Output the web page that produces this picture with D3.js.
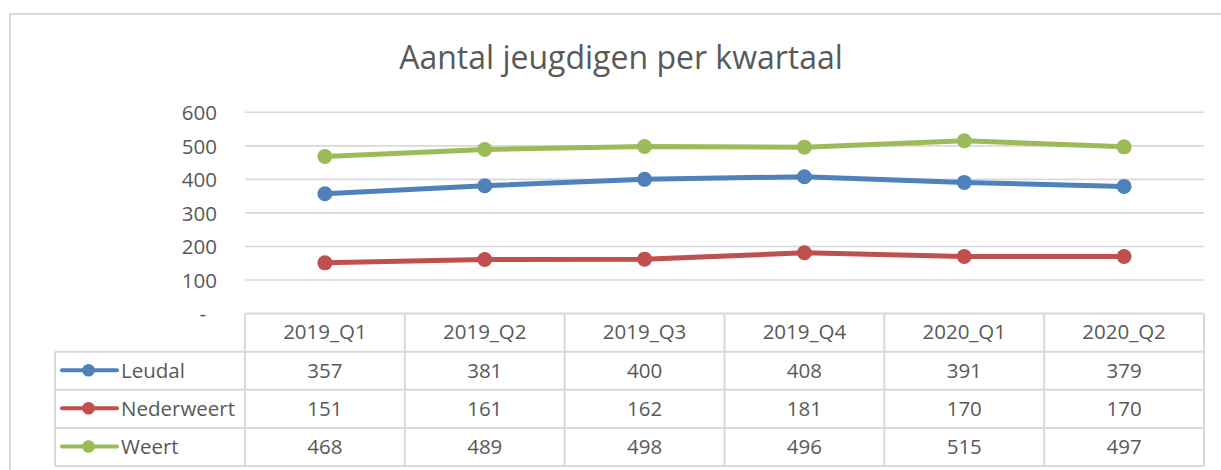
<!DOCTYPE html>
<html>
<head>
<meta charset="utf-8">
<script src="https://cdn.jsdelivr.net/npm/d3@7"></script>
<style>
  html, body { margin: 0; padding: 0; background: #fff; }
  svg { display: block; }
  text { font-family: "Open Sans", sans-serif; fill: #595959; }
</style>
</head>
<body>
<svg id="chart" width="1221" height="470"></svg>
<script>
const title = "Aantal jeugdigen per kwartaal";
const quarters = ["2019_Q1", "2019_Q2", "2019_Q3", "2019_Q4", "2020_Q1", "2020_Q2"];
const seriesNames = ["Leudal", "Nederweert", "Weert"];
const leudal = [357, 381, 400, 408, 391, 379];
const nederweert = [151, 161, 162, 181, 170, 170];
const weert = [468, 489, 498, 496, 515, 497];
const yTicks = [0, 100, 200, 300, 400, 500, 600];
const colors = ["#4F81BD", "#C0504D", "#9BBB59"];

const series = [
  { name: seriesNames[0], values: leudal, color: colors[0] },
  { name: seriesNames[1], values: nederweert, color: colors[1] },
  { name: seriesNames[2], values: weert, color: colors[2] }
];

const svg = d3.select("#chart");
const grid = "#d9d9d9";
const fs = "20.5px";

// outer chart border
svg.append("rect")
  .attr("x", 10).attr("y", 14)
  .attr("width", 1240).attr("height", 480)
  .attr("fill", "none").attr("stroke", grid).attr("stroke-width", 2);

// title
svg.append("text")
  .attr("x", 621).attr("y", 69)
  .attr("text-anchor", "middle")
  .style("font-size", "32px")
  .text(title);

const plotLeft = 245, plotRight = 1204, plotTop = 112.3, plotBottom = 313.5;

const x = d3.scaleBand().domain(quarters).range([plotLeft, plotRight]).paddingInner(0).paddingOuter(0);
const y = d3.scaleLinear().domain([0, 600]).range([plotBottom, plotTop]);

// gridlines
svg.append("g")
  .selectAll("line")
  .data(yTicks.filter(d => d > 0))
  .join("line")
  .attr("x1", plotLeft).attr("x2", plotRight)
  .attr("y1", d => y(d)).attr("y2", d => y(d))
  .attr("stroke", grid).attr("stroke-width", 1.6);

// y axis labels via d3 axis
const yAxis = d3.axisLeft(y)
  .tickValues(yTicks)
  .tickSize(0)
  .tickPadding(0)
  .tickFormat(d => d === 0 ? "-" : d3.format("d")(d));
const yg = svg.append("g")
  .attr("transform", "translate(217,0)")
  .call(yAxis);
yg.select(".domain").remove();
yg.selectAll("text")
  .attr("fill", "#595959")
  .style("font-family", "\"Open Sans\", sans-serif")
  .style("font-size", fs)
  .attr("dy", "0.36em")
  .attr("x", d => d === 0 ? -11 : 0);

// lines
const line = d3.line()
  .x((d, i) => x(quarters[i]) + x.bandwidth() / 2)
  .y(d => y(d));

const sg = svg.append("g");
series.forEach(s => {
  sg.append("path")
    .attr("d", line(s.values))
    .attr("fill", "none")
    .attr("stroke", s.color)
    .attr("stroke-width", 5)
    .attr("stroke-linejoin", "round")
    .attr("stroke-linecap", "round");
  sg.selectAll(null)
    .data(s.values)
    .join("circle")
    .attr("cx", (d, i) => x(quarters[i]) + x.bandwidth() / 2)
    .attr("cy", d => y(d))
    .attr("r", 7.5)
    .attr("fill", s.color);
});

// data table
const rows = d3.scaleBand().domain(["header"].concat(seriesNames)).range([313.5, 466]);
const labelLeft = 55;
const tg = svg.append("g");
const bw = 2;

// horizontal lines
tg.append("line")
  .attr("x1", plotLeft).attr("x2", plotRight)
  .attr("y1", rows("header")).attr("y2", rows("header"))
  .attr("stroke", grid).attr("stroke-width", bw);
seriesNames.forEach(n => {
  tg.append("line")
    .attr("x1", labelLeft).attr("x2", plotRight)
    .attr("y1", rows(n)).attr("y2", rows(n))
    .attr("stroke", grid).attr("stroke-width", bw);
});
tg.append("line")
  .attr("x1", labelLeft).attr("x2", plotRight)
  .attr("y1", rows(seriesNames[2]) + rows.bandwidth()).attr("y2", rows(seriesNames[2]) + rows.bandwidth())
  .attr("stroke", grid).attr("stroke-width", bw);

// vertical lines
tg.append("line")
  .attr("x1", labelLeft).attr("x2", labelLeft)
  .attr("y1", rows(seriesNames[0])).attr("y2", 466)
  .attr("stroke", grid).attr("stroke-width", bw);
quarters.forEach(q => {
  tg.append("line")
    .attr("x1", x(q)).attr("x2", x(q))
    .attr("y1", rows("header")).attr("y2", 466)
    .attr("stroke", grid).attr("stroke-width", bw);
});
tg.append("line")
  .attr("x1", plotRight).attr("x2", plotRight)
  .attr("y1", rows("header")).attr("y2", 466)
  .attr("stroke", grid).attr("stroke-width", bw);

// header text
tg.selectAll("text.hdr")
  .data(quarters)
  .join("text")
  .attr("class", "hdr")
  .attr("x", d => x(d) + x.bandwidth() / 2)
  .attr("y", rows("header") + rows.bandwidth() / 2 - 0.5)
  .attr("dy", "0.36em")
  .attr("text-anchor", "middle")
  .style("font-size", fs)
  .text(d => d);

// series rows
series.forEach(s => {
  const cy = rows(s.name) + rows.bandwidth() / 2 - 0.5;
  tg.append("line")
    .attr("x1", 62).attr("x2", 117)
    .attr("y1", cy).attr("y2", cy)
    .attr("stroke", s.color).attr("stroke-width", 4)
    .attr("stroke-linecap", "round");
  tg.append("circle")
    .attr("cx", 88.5).attr("cy", cy).attr("r", 6.3)
    .attr("fill", s.color);
  tg.append("text")
    .attr("x", 121).attr("y", cy)
    .attr("dy", "0.36em")
    .style("font-size", fs)
    .text(s.name);
  tg.selectAll(null)
    .data(s.values)
    .join("text")
    .attr("x", (d, i) => x(quarters[i]) + x.bandwidth() / 2)
    .attr("y", cy)
    .attr("dy", "0.36em")
    .attr("text-anchor", "middle")
    .style("font-size", fs)
    .text(d => d);
});
</script>
</body>
</html>
